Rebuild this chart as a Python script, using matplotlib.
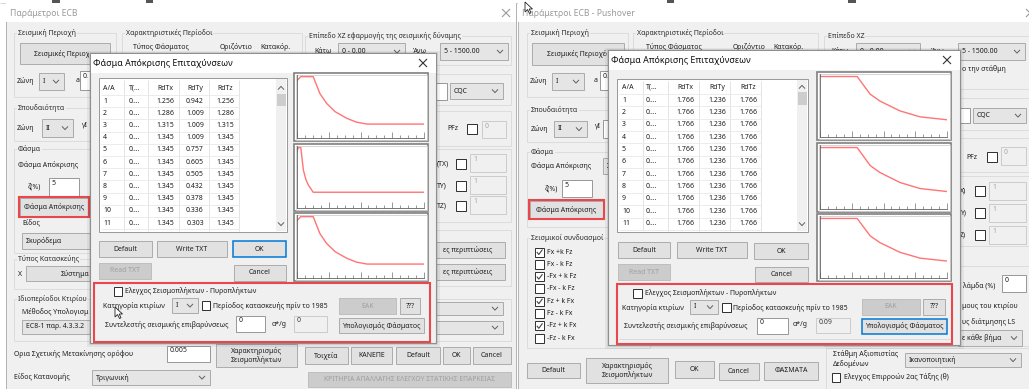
import matplotlib
matplotlib.use("Agg")
import matplotlib.pyplot as plt
from matplotlib.patches import Rectangle, Polygon
from matplotlib.lines import Line2D
from matplotlib.ticker import MultipleLocator, NullLocator

plt.rcParams['font.family'] = ['Noto Sans', 'DejaVu Sans']

# ---------------- data ----------------
row_ids = [1, 2, 3, 4, 5, 6, 7, 8, 9, 10, 11]
period_cells = ['0....', '0....', '0....', '0....', '0....', '0....',
                '0....', '0....', '0....', '0....', '0....']
table_header = ['A/A', 'T(...', 'RdTx', 'RdTy', 'RdTz']

ecb_RdTx = [1.256, 1.286, 1.315, 1.345, 1.345, 1.345, 1.345, 1.345, 1.345, 1.345, 1.345]
ecb_RdTy = [0.942, 1.009, 1.009, 1.009, 0.757, 0.605, 0.505, 0.432, 0.378, 0.336, 0.303]
ecb_RdTz = [1.256, 1.286, 1.315, 1.345, 1.345, 1.345, 1.345, 1.345, 1.345, 1.345, 1.345]

push_RdTx = [1.766, 1.766, 1.766, 1.766, 1.766, 1.766, 1.766, 1.766, 1.766, 1.766, 1.766]
push_RdTy = [1.236, 1.236, 1.236, 1.236, 1.236, 1.236, 1.236, 1.236, 1.236, 1.236, 1.236]
push_RdTz = [1.766, 1.766, 1.766, 1.766, 1.766, 1.766, 1.766, 1.766, 1.766, 1.766, 1.766]

# spectrum curves (T in s, Sd)
ecb_T_xz = [0.00, 0.12, 0.51, 0.62, 0.72, 0.93, 1.20, 1.56, 1.87, 2.20, 4.00]
ecb_Sd_x = [1.256, 1.345, 1.345, 1.150, 0.972, 0.755, 0.571, 0.427, 0.340, 0.297, 0.297]
ecb_Sd_z = [1.256, 1.345, 1.345, 1.150, 0.972, 0.755, 0.571, 0.427, 0.340, 0.297, 0.297]
ecb_T_y = [0.00, 0.04, 0.12, 0.20, 0.28, 0.36, 0.51, 4.00]
ecb_Sd_y = [0.942, 1.009, 1.009, 0.633, 0.470, 0.376, 0.257, 0.257]

push_T = [0.00, 1.17, 1.58, 1.89, 2.52, 3.15, 4.00]
push_Sd_x = [1.766, 1.766, 1.245, 1.042, 0.753, 0.579, 0.492]
push_Sd_y = [1.236, 1.236, 0.871, 0.729, 0.527, 0.405, 0.344]
push_Sd_z = [1.766, 1.766, 1.245, 1.042, 0.753, 0.579, 0.492]

combo_labels = ['Fx +k Fz', 'Fx - k Fz', '-Fx + k Fz', '-Fx - k Fz',
                'Fz + k Fx', 'Fz - k Fx', '-Fz + k Fx', '-Fz - k Fx']
combo_checked = [True, False, True, False, True, False, True, False]

# ---------------- canvas ----------------
W, H = 1029, 389
fig = plt.figure(figsize=(W / 100, H / 100), dpi=100)
ax = fig.add_axes([0, 0, 1, 1])
ax.set_xlim(0, W)
ax.set_ylim(H, 0)
ax.axis('off')

BG = '#f0f0f0'
TXT = '#1e1e1e'
RED = '#e8474b'
Z = [1]
FS = 5.0


def rect(x0, y0, x1, y1, fc='none', ec='none', lw=0.72):
    ax.add_patch(Rectangle((x0, y0), x1 - x0, y1 - y0, facecolor=fc,
                           edgecolor=ec, linewidth=lw, zorder=Z[0]))


def line(xs, ys, c='#dcdcdc', lw=0.72):
    ax.add_line(Line2D(xs, ys, color=c, linewidth=lw, zorder=Z[0],
                       solid_capstyle='butt'))


def text(x, y, s, size=FS, color=TXT, ha='left', va='center', clip=None, **kw):
    t = ax.text(x, y, s, fontsize=size, color=color, ha=ha, va=va,
                zorder=Z[0], **kw)
    if clip is not None:
        cx0, cy0, cx1, cy1 = clip
        cp = Rectangle((cx0, cy0), cx1 - cx0, cy1 - cy0, transform=ax.transData)
        t.set_clip_path(cp)
        t.set_clip_on(True)
    return t


def chevron(xc, yc, up=False, c='#606060'):
    d = -1.6 if up else 1.6
    line([xc - 3, xc, xc + 3], [yc - d, yc + d, yc - d], c=c, lw=0.7)


def button(x0, y0, x1, y1, label, state='normal', size=FS, clip=None):
    fc, ec, tc, lw = '#e1e1e1', '#adadad', TXT, 0.72
    if state == 'disabled':
        fc, ec, tc = '#cccccc', '#bfbfbf', '#a0a0a0'
    if state == 'focus':
        ec, lw = '#0078d7', 1.1
    rect(x0, y0, x1, y1, fc=fc, ec=ec, lw=lw)
    if label:
        text((x0 + x1) / 2, (y0 + y1) / 2, label, size=size, color=tc,
             ha='center', linespacing=1.3, clip=clip)


def combo(x0, y0, x1, y1, label):
    rect(x0, y0, x1, y1, fc='#e5e5e5', ec='#acacac')
    text(x0 + 4, (y0 + y1) / 2, label)
    chevron(x1 - 8, (y0 + y1) / 2)


def textbox(x0, y0, x1, y1, label='', disabled=False, tc=None):
    if disabled:
        rect(x0, y0, x1, y1, fc=BG, ec='#cccccc')
        text(x0 + 3, y0 + 5, label, color=tc or '#a8a8a8')
    else:
        rect(x0, y0, x1, y1, fc='white', ec='#9a9a9a')
        text(x0 + 3, y0 + 5, label, color=tc or TXT)


def checkbox(x0, y0, x1, y1, checked=False):
    rect(x0, y0, x1, y1, fc='white', ec='#333333')
    if checked:
        yc = (y0 + y1) / 2
        line([x0 + 1.8, x0 + 3.8, x1 - 1.5], [yc, yc + 2.5, y0 + 2],
             c='#444444', lw=0.8)


def group(x0, y0, x1, y1, label=''):
    rect(x0, y0, x1, y1, fc='none', ec='#dcdcdc')
    if label:
        text(x0 + 4, y0, label, color='#2a2a2a',
             bbox=dict(facecolor=BG, edgecolor='none', pad=0.6))


def close_x(xc, yc, c='#777777'):
    line([xc - 4, xc + 4], [yc - 4, yc + 4], c=c, lw=0.8)
    line([xc - 4, xc + 4], [yc + 4, yc - 4], c=c, lw=0.8)


def cursor(x, y):
    pts = [(x, y), (x, y + 10), (x + 2.5, y + 7.5), (x + 4.5, y + 11.5),
           (x + 6, y + 10.8), (x + 4.2, y + 7), (x + 7.5, y + 7)]
    ax.add_patch(Polygon(pts, closed=True, facecolor='white',
                         edgecolor='#222222', linewidth=0.6, zorder=Z[0]))


def window(x0, y0, x1, y1, title):
    rect(x0, y0, x1, y1, fc=BG, ec='#b4b4b4')
    rect(x0, y0, x1, y0 + 19, fc='white', ec='none')
    text(x0 + 4, y0 + 10, title, size=6.2, color='#9a9a9a')
    close_x(x1 - 10, y0 + 10, c='#9a9a9a')


def popup(x0, y0, x1, y1, title):
    rect(x0 - 3, y0 - 2, x1 + 4, y1 + 4, fc=(0, 0, 0, 0.05))
    rect(x0 - 1, y0 - 1, x1 + 2, y1 + 2, fc=(0, 0, 0, 0.08))
    rect(x0, y0, x1, y1, fc=BG, ec='#8f8f8f', lw=0.8)
    rect(x0 + 0.5, y0 + 0.5, x1 - 0.5, y0 + 20, fc='white', ec='none')
    text(x0 + 3, y0 + 10.5, title, size=6.4, color='#111111')
    close_x(x1 - 13, y0 + 10, c='#333333')


def data_table(x0, y0, x1, y1, seps, hdr_y, row_y0, dy, left_xs,
               centers, col_a, col_b, col_c, sb_thumb):
    rect(x0, y0, x1, y1, fc='white', ec='#9a9a9a')
    for s in seps:
        line([s, s], [y0 + 2, y1 - 1], c='#e4e4e4')
    for i in range(len(row_ids) + 1):
        yy = row_y0 - dy / 2 + i * dy
        line([x0 + 2, seps[-1]], [yy, yy], c='#ececec')
    text(left_xs[0], hdr_y, table_header[0])
    text(left_xs[1], hdr_y, table_header[1])
    for c, h in zip(centers, table_header[2:]):
        text(c, hdr_y, h, ha='center')
    for i, rid in enumerate(row_ids):
        yy = row_y0 + i * dy
        text(left_xs[0], yy, str(rid))
        text(left_xs[1], yy, period_cells[i])
        text(centers[0], yy, f'{col_a[i]:.3f}', ha='center')
        text(centers[1], yy, f'{col_b[i]:.3f}', ha='center')
        text(centers[2], yy, f'{col_c[i]:.3f}', ha='center')
    sx0, sx1 = x1 - 11, x1 - 1
    rect(sx0, y0 + 1, sx1, y1 - 1, fc='#f0f0f0', ec='none')
    rect(sx0 + 0.5, sb_thumb[0], sx1 - 0.5, sb_thumb[1], fc='#cdcdcd')
    chevron((sx0 + sx1) / 2, hdr_y, up=True)
    chevron((sx0 + sx1) / 2, y1 - 8)


def chart_panel(px0, py0, px1, py1, T, Sd, top_factor):
    rect(px0, py0, px1, py1, fc='white', ec='#808080', lw=1.2)
    rect(px0 + 1.5, py0 + 1.5, px1 - 1.5, py1 - 1.5, fc='none',
         ec='#d0d0d0', lw=0.6)
    ax0, ax1 = px0 + 3, px0 + 130
    ay0, ay1 = py0 + 1.5, py1 - 3.5
    a = fig.add_axes([ax0 / W, 1 - ay1 / H, (ax1 - ax0) / W, (ay1 - ay0) / H])
    a.patch.set_alpha(0)
    a.plot(T, Sd, color='#ff7474', lw=1.0, solid_joinstyle='round')
    a.set_xlim(0, 4)
    a.set_ylim(0, max(Sd) * top_factor)
    for s in ('top', 'right'):
        a.spines[s].set_visible(False)
    for s in ('left', 'bottom'):
        a.spines[s].set_color('#606060')
        a.spines[s].set_linewidth(0.6)
    a.xaxis.set_major_locator(MultipleLocator(1.0))
    a.xaxis.set_minor_locator(MultipleLocator(0.25))
    a.yaxis.set_major_locator(NullLocator())
    a.tick_params(axis='x', which='major', direction='in', length=4.0,
                  width=0.5, color='#707070', labelbottom=False)
    a.tick_params(axis='x', which='minor', direction='in', length=2.2,
                  width=0.5, color='#707070')


# ---------------- top strip ----------------
rect(0, 0, W, 4, fc='#ffffff')
line([0, W], [2.5, 2.5], c='#d8d8d8')
rect(52, 0, 60, 2.5, fc='#555555')
rect(146, 0, 153, 2.5, fc='#555555')
rect(848, 0, 856, 2.5, fc='#555555')
rect(667, 0, 674, 2.5, fc='#555555')

# ================= LEFT WINDOW (background) =================
window(6, 3, 516, 395, 'Παράμετροι ECB')

LCLIP = (6, 0, 89, 395)
RCLIP = (518, 0, 607, 395)

group(14, 33, 116, 97, 'Σεισμική Περιοχή')
button(20, 43, 110, 64, 'Σεισμικές Περιοχές', clip=LCLIP)
text(17, 81, 'Ζώνη')
combo(39, 73, 64, 90, 'I')
text(76, 80, 'a')
textbox(80, 71, 100, 90, '0.')

group(122, 33, 302, 140, 'Χαρακτηριστικές Περίοδοι')
text(133, 47, 'Τύπος Φάσματος')
text(220, 47, 'Οριζόντιο')
text(260, 47, 'Κατακόρ.')

group(305, 36, 511, 65, 'Επίπεδο XZ εφαρμογής της σεισμικής δύναμης')
text(314, 51, 'Κάτω')
combo(338, 43, 405, 60, '0 - 0.00')
text(413, 51, 'Άνω')
combo(440, 43, 508, 60, '5 - 1500.00')

group(305, 74, 511, 105)
textbox(432, 83, 447, 100)
combo(450, 83, 503, 99, 'CQC')
group(305, 111, 511, 146, 'ς Απόκρισης')
text(447, 129, 'PFz')
checkbox(467, 124, 477, 134)
textbox(482, 121, 506, 138, '0', disabled=True)
group(305, 149, 511, 222, 'T)')
for yy, lab in ((164, '(TX)'), (186, 'TY)'), (206, 'TZ)')):
    text(437, yy, lab)
    checkbox(456, yy - 5, 466, yy + 5)
    textbox(470, yy - 10, 506, yy + 8, '1', disabled=True)
group(305, 230, 511, 286)
button(431, 242, 505, 258, 'ες περιπτώσεις')
button(431, 264, 505, 280, 'ες περιπτώσεις')

group(14, 108, 120, 141, 'Σπουδαιότητα')
text(17, 128, 'Ζώνη')
combo(42, 119, 73, 137, 'II')
text(82, 125, 'γΙ')

group(14, 149, 120, 253, 'Φάσμα')
text(18, 165, 'Φάσμα Απόκρισης')
text(28, 187, 'ζ(%)')
textbox(49, 178, 79, 197, '5')
button(20, 198, 88, 216, 'Φάσμα Απόκρισης')
rect(19, 197, 89, 217, fc='none', ec=RED, lw=1.5)
text(22, 223, 'Είδος')
combo(22, 233, 120, 249, 'Σκυρόδεμα')
group(14, 259, 120, 289, 'Τύπος Κατασκεύης')
text(18, 274, 'X')
button(26, 266, 160, 281, '')
text(61, 273.5, 'Σύστημα')

group(14, 299, 511, 341, 'Ιδιοπερίοδοι Κτιρίου')
text(22, 312, 'Μέθοδος Υπολογισμ')
combo(22, 320, 120, 334, 'EC8-1 παρ. 4.3.3.2')
combo(380, 302, 503, 315, '')
combo(380, 321, 503, 334, '')

text(14, 354, 'Ορια Σχετικής Μετακίνησης ορόφου')
textbox(167, 346, 210, 362, '0.005')
button(216, 344, 297, 367, 'Χαρακτηρισμός\nΣεισμοπλήκτων')
button(305, 347, 348, 364, 'Τοιχεία')
button(351, 347, 392, 364, 'ΚΑΝΕΠΕ')
button(396, 347, 440, 364, 'Default')
button(443, 347, 470, 364, 'OK')
button(473, 347, 511, 364, 'Cancel')
text(14, 377, 'Είδος Κατανομής')
combo(92, 370, 210, 385, 'Τριγωνική')
button(308, 372, 511, 387, 'ΚΡΙΤΗΡΙΑ ΑΠΑΛΛΑΓΗΣ ΕΛΕΓΧΟΥ ΣΤΑΤΙΚΗΣ ΕΠΑΡΚΕΙΑΣ',
       state='disabled', size=4.9)

# ================= RIGHT WINDOW (background) =================
window(518, 3, 1040, 395, 'Παράμετροι ECB - Pushover')

group(527, 33, 628, 97, 'Σεισμική Περιοχή')
button(532, 43, 624, 65, 'Σεισμικές Περιοχές', clip=RCLIP)
text(530, 81, 'Ζώνη')
combo(552, 73, 584, 90, 'I')
text(594, 80, 'a')
textbox(600, 71, 625, 90, '0.')
group(633, 33, 818, 140, 'Χαρακτηριστικές Περίοδοι')
text(646, 47, 'Τύπος Φάσματος')
text(733, 47, 'Οριζόντιο')
text(773, 47, 'Κατακόρ.')
group(824, 36, 1040, 89, 'Επίπεδο XZ')
text(831, 51, 'Κάτω')
combo(856, 43, 920, 60, '0 - 0.00')
text(931, 51, 'Άνω')
combo(958, 43, 1025, 60, '5 - 1500.00')
text(962, 69, 'ο την στάθμη')
group(824, 98, 1040, 130)
textbox(958, 108, 970, 123)
combo(973, 108, 1026, 123, 'CQC')
group(824, 138, 1040, 172, 'Απόκρισης')
text(966, 157, 'PFz')
checkbox(987, 152, 997, 162)
textbox(1001, 147, 1026, 165, '0', disabled=True)
group(824, 176, 1040, 246, ')')
for yy, lab in ((191, 'X)'), (213, 'Y)'), (235, 'Z)')):
    text(960, yy, lab)
    checkbox(975, yy - 5, 985, yy + 5)
    textbox(989, yy - 9, 1026, yy + 9, '1', disabled=True)
group(824, 266, 1040, 346, 'ές Τοιχοπληρώσεις')
text(963, 286, 'λάμδα (%)')
textbox(1002, 275, 1026, 292, '0')
text(962, 306, 'μους του κτιρίου')
text(962, 322, 'υς διάτμησης LS')
combo(958, 330, 1022, 346, 'ε κάθε βήμα')

group(527, 110, 628, 142, 'Σπουδαιότητα')
text(531, 129, 'Ζώνη')
combo(554, 121, 587, 137, 'II')
text(595, 126, 'γΙ')
textbox(603, 120, 625, 138)

group(527, 152, 628, 227, 'Φάσμα')
text(531, 166, 'Φάσμα Απόκρισης')
combo(603, 158, 650, 174, 'Σ')
text(545, 189, 'ζ(%)')
textbox(562, 180, 592, 197, '5')
button(530, 201, 603, 218, 'Φάσμα Απόκρισης')
rect(529, 200, 604, 219, fc='none', ec=RED, lw=1.5)

group(527, 238, 650, 348, 'Σεισμικοί συνδυασμοί')
for i, (lab, chk) in enumerate(zip(combo_labels, combo_checked)):
    yy = 252 + i * 12.3
    checkbox(535, yy - 4.5, 544, yy + 4.5, checked=chk)
    text(547, yy, lab)

button(527, 363, 580, 378, 'Default')
button(586, 358, 668, 383, 'Χαρακτηρισμός\nΣεισμοπλήκτων')
button(675, 361, 714, 378, 'OK')
button(719, 363, 759, 380, 'Cancel')
button(764, 362, 818, 380, 'ΦΑΣΜΑΤΑ')
group(826, 348, 1040, 395)
text(833, 354, 'Στάθμη Αξιοπιστίας')
text(833, 364, 'Δεδομένων')
combo(905, 353, 1021, 367, 'Ικανοποιητική')
checkbox(832, 373, 840, 382)
text(844, 377, 'Ελεγχος Επιρροών 2ας Τάξης (θ)')

cursor(525, 2)

# ================= POPUPS =================
Z[0] = 5

# ---- left popup ----
popup(90, 53, 436, 343, 'Φάσμα Απόκρισης Επιταχύνσεων')
data_table(99, 78, 287, 232, [124, 148, 179, 209, 239], 88, 101, 12.2,
           [103, 129], [165, 195, 225], ecb_RdTx, ecb_RdTy, ecb_RdTz,
           (94, 106))
button(99, 241, 152, 257, 'Default')
button(157, 241, 227, 257, 'Write TXT')
button(233, 241, 286, 257, 'OK', state='focus')
button(99, 263, 151, 279, 'Read TXT', state='disabled')
button(234, 265, 286, 281, 'Cancel')

rect(94, 283, 430, 342, fc='none', ec=RED, lw=1.5)
checkbox(114, 287, 122, 296)
text(125, 291, 'Ελεγχος Σεισμοπλήκτων - Πυροπλήκτων')
text(103, 306, 'Κατηγορία κτιρίων')
combo(172, 298, 198, 313, 'I')
checkbox(202, 301, 210, 310)
text(213, 306, 'Περίοδος κατασκευής πρίν το 1985')
button(339, 298, 396, 314, 'ΕΑΚ', state='disabled')
button(400, 298, 420, 314, '???')
text(105, 325, 'Συντελεστής σεισμικής επιβαρύνσεως')
textbox(236, 316, 265, 332, '0')
text(272, 324, 'α*/g')
textbox(294, 316, 327, 332, '0', disabled=True, tc='#3a3a3a')
button(339, 318, 424, 333, 'Υπολογισμός Φάσματος')
Z[0] = 6
cursor(115, 307)
Z[0] = 5

# ---- right popup ----
popup(608, 50, 960, 345, 'Φάσμα Απόκρισης Επιταχύνσεων')
data_table(617, 79, 808, 232, [643, 668, 699, 730, 761], 87, 100, 12.37,
           [622, 646], [685, 717, 748], push_RdTx, push_RdTy, push_RdTz,
           (92, 105))
button(618, 242, 670, 258, 'Default')
button(677, 242, 747, 258, 'Write TXT')
button(754, 243, 808, 259, 'OK')
button(618, 264, 670, 280, 'Read TXT', state='disabled')
button(755, 267, 808, 282, 'Cancel')

line([619, 950], [339, 339], c='#dadada')
rect(617, 284, 952, 344, fc='none', ec=RED, lw=1.5)
checkbox(633, 289, 642, 298)
text(645, 293, 'Ελεγχος Σεισμοπλήκτων - Πυροπλήκτων')
text(622, 308, 'Κατηγορία κτιρίων')
combo(690, 300, 718, 314, 'I')
checkbox(722, 303, 731, 312)
text(733, 308, 'Περίοδος κατασκευής πρίν το 1985')
button(862, 299, 920, 315, 'ΕΑΚ', state='disabled')
button(923, 299, 945, 315, '???')
text(624, 326, 'Συντελεστής σεισμικής επιβαρύνσεως')
textbox(757, 318, 788, 334, '0')
text(793, 325, 'α*/g')
textbox(816, 318, 850, 333, '0.09', disabled=True, tc='#3a3a3a')
button(862, 319, 947, 334, 'Υπολογισμός Φάσματος', state='focus')

# ---- spectrum charts ----
for (py0, py1), T, Sd in (((73, 141), ecb_T_xz, ecb_Sd_x),
                          ((144, 211), ecb_T_y, ecb_Sd_y),
                          ((213, 281), ecb_T_xz, ecb_Sd_z)):
    chart_panel(294, py0, 428, py1, T, Sd, 1.035)

for (py0, py1), Sd in (((72, 140), push_Sd_x),
                       ((143, 212), push_Sd_y),
                       ((214, 281), push_Sd_z)):
    chart_panel(817, py0, 951, py1, push_T, Sd, 1.05)

fig.savefig('out.png', dpi=100)
